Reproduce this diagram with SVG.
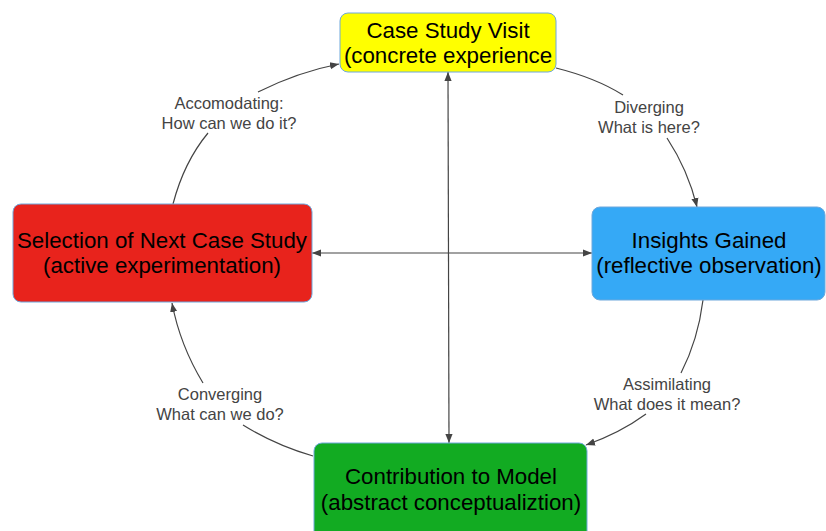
<svg xmlns="http://www.w3.org/2000/svg" width="826" height="531" viewBox="0 0 826 531">
<style>
.box{stroke:#6fa8dc;stroke-width:1}
.t{font-family:"Liberation Sans",Arial,sans-serif;font-size:22.3px;fill:#000;text-anchor:middle}
.l{font-family:"Liberation Sans",Arial,sans-serif;font-size:16.5px;fill:#444;text-anchor:middle}
.c{fill:none;stroke:#444;stroke-width:1.2}
</style>
<defs>
<marker id="ah" viewBox="0 0 10 10" refX="10" refY="5" markerWidth="9" markerHeight="9" markerUnits="userSpaceOnUse" orient="auto-start-reverse">
<path d="M0,1 L10,5 L0,9 Z" fill="#444"/>
</marker>
</defs>
<rect width="826" height="531" fill="#fff"/>
<g id="connectors">
<path class="c" d="M448,72 L449,443" marker-start="url(#ah)" marker-end="url(#ah)"/>
<path class="c" d="M312,253 L592,253" marker-start="url(#ah)" marker-end="url(#ah)"/>
<path class="c" d="M173,204 Q184,162 208,133"/>
<path class="c" d="M258,92 Q298,72 339,64" marker-end="url(#ah)"/>
<path class="c" d="M556,68 Q596,78 623,95"/>
<path class="c" d="M667,138 Q688,170 697,207" marker-end="url(#ah)"/>
<path class="c" d="M703,300 Q698,340 681,373"/>
<path class="c" d="M646,414 Q620,433 586,445" marker-end="url(#ah)"/>
<path class="c" d="M313,456 Q275,445 243,425"/>
<path class="c" d="M203,383 Q180,345 172,303" marker-end="url(#ah)"/>
</g>
<g id="labels">
<text class="l" x="229" y="109">Accomodating:</text>
<text class="l" x="229" y="129">How can we do it?</text>
<text class="l" x="649" y="113">Diverging</text>
<text class="l" x="649" y="133">What is here?</text>
<text class="l" x="667" y="390">Assimilating</text>
<text class="l" x="667" y="410">What does it mean?</text>
<text class="l" x="220" y="400">Converging</text>
<text class="l" x="220" y="420">What can we do?</text>
</g>
<g id="node-case-study-visit">
<rect class="box" x="340" y="13" width="216" height="59" rx="8" fill="#ffff00"/>
<text class="t" x="448" y="38">Case Study Visit</text>
<text class="t" x="448" y="63">(concrete experience</text>
</g>
<g id="node-insights-gained">
<rect class="box" x="592" y="207" width="233" height="93" rx="8" fill="#35a9f6"/>
<text class="t" x="709" y="248">Insights Gained</text>
<text class="t" x="709" y="273">(reflective observation)</text>
</g>
<g id="node-selection">
<rect class="box" x="13" y="204" width="299" height="98" rx="8" fill="#e8231c"/>
<text class="t" x="162" y="248">Selection of Next Case Study</text>
<text class="t" x="162" y="273">(active experimentation)</text>
</g>
<g id="node-contribution">
<rect class="box" x="314" y="443" width="273" height="100" rx="8" fill="#12ab22"/>
<text class="t" x="451" y="484">Contribution to Model</text>
<text class="t" x="451" y="510">(abstract conceptualiztion)</text>
</g>
</svg>
